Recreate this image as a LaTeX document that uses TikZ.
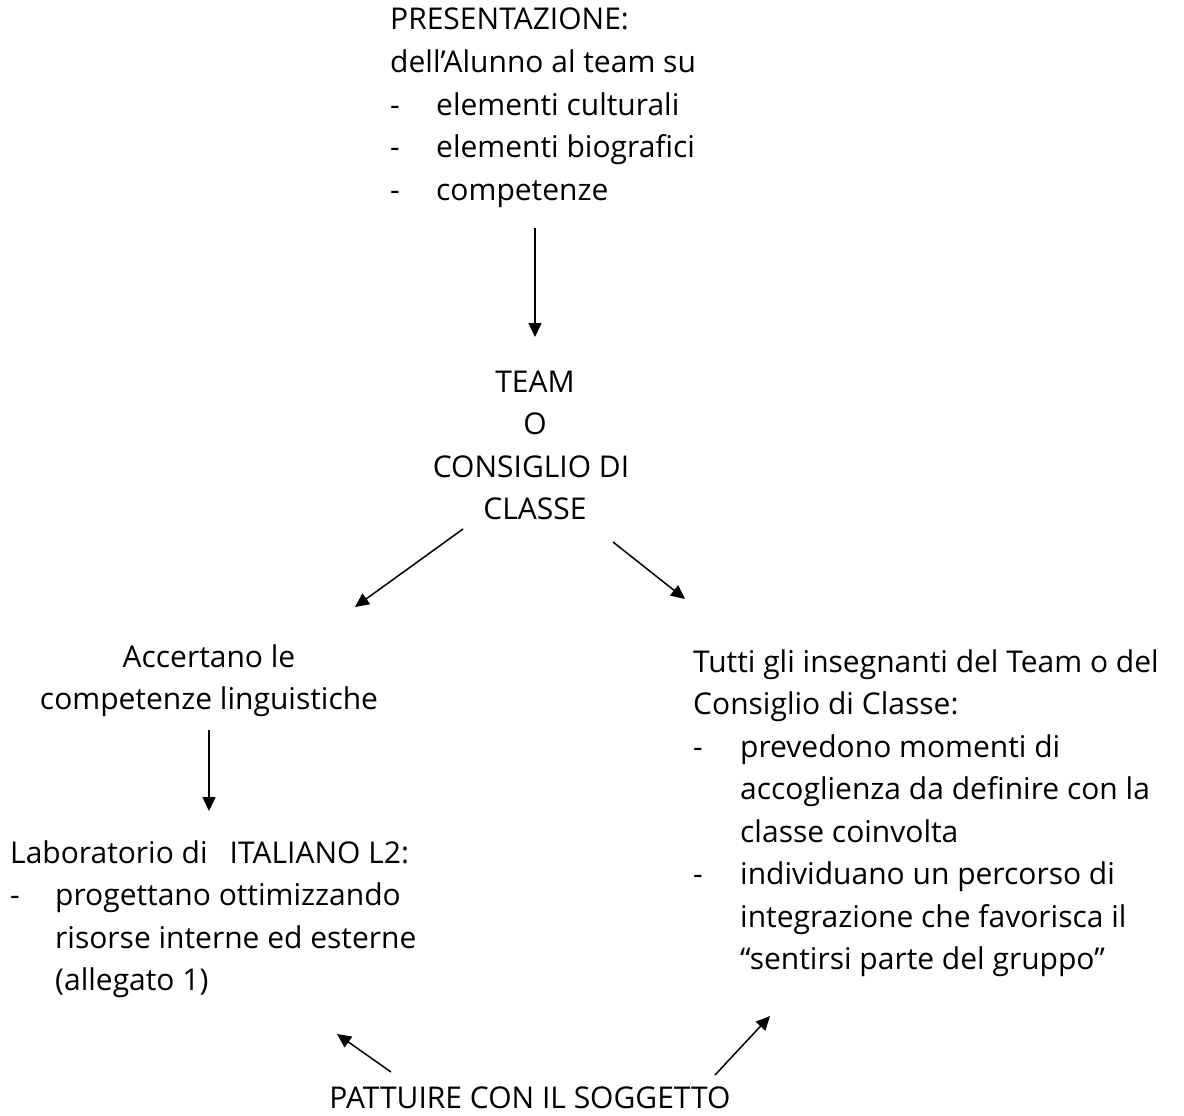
\documentclass[tikz,border=0pt]{standalone}
\usepackage{fontspec}
\setmainfont{Open Sans}
\usetikzlibrary{arrows.meta}
\begin{document}
\begin{tikzpicture}[x=1pt,y=-1pt,
  txt/.style={anchor=base west,inner sep=0pt,font=\fontsize{30}{40}\selectfont},
  ctxt/.style={anchor=base,inner sep=0pt,font=\fontsize{30}{40}\selectfont},
  conn/.style={line width=1.5pt,-{Triangle[length=14pt,width=13pt]}}]
\useasboundingbox (0,0) rectangle (1184,1116);
% top block
\node[txt] (p1) at (390,30) {PRESENTAZIONE:};
\node[txt] (p2) at (390,72.5) {dell’Alunno al team su};
\node[txt] (p3d) at (390,115) {-};
\node[txt] (p3) at (436,115) {elementi culturali};
\node[txt] (p4d) at (390,157.5) {-};
\node[txt] (p4) at (436,157.5) {elementi biografici};
\node[txt] (p5d) at (390,200) {-};
\node[txt] (p5) at (436,200) {competenze};
% team
\node[ctxt] (t1) at (535,392) {TEAM};
\node[ctxt] (t2) at (535,434.5) {O};
\node[ctxt] (t3) at (531,477) {CONSIGLIO DI};
\node[ctxt] (t4) at (535,519.5) {CLASSE};
% left
\node[ctxt] (a1) at (209,667) {Accertano le};
\node[ctxt] (a2) at (209,709.5) {competenze linguistiche};
\node[txt] (b1) at (10,863) {Laboratorio di\hspace{22pt}ITALIANO L2:};
\node[txt] (b2d) at (10,905.5) {-};
\node[txt] (b2) at (55,905.5) {progettano ottimizzando};
\node[txt] (b3) at (55,948) {risorse interne ed esterne};
\node[txt] (b4) at (55,990.5) {(allegato 1)};
% right
\node[txt] (r1) at (693,672) {Tutti gli insegnanti del Team o del};
\node[txt] (r2) at (693,714.5) {Consiglio di Classe:};
\node[txt] (r3d) at (693,757) {-};
\node[txt] (r3) at (740,757) {prevedono momenti di};
\node[txt] (r4) at (740,799.5) {accoglienza da definire con la};
\node[txt] (r5) at (740,842) {classe coinvolta};
\node[txt] (r6d) at (693,884.5) {-};
\node[txt] (r6) at (740,884.5) {individuano un percorso di};
\node[txt] (r7) at (740,927) {integrazione che favorisca il};
\node[txt] (r8) at (740,969.5) {“sentirsi parte del gruppo”};
% bottom
\node[ctxt] (s1) at (530,1108) {PATTUIRE CON IL SOGGETTO};
% connector ends
\coordinate (c1a) at (535,228); \coordinate (c1b) at (535,337);
\coordinate (c2a) at (463,529); \coordinate (c2b) at (355,607);
\coordinate (c3a) at (613,542); \coordinate (c3b) at (685,599);
\coordinate (c4a) at (209,730); \coordinate (c4b) at (209,811);
\coordinate (c5a) at (391,1072); \coordinate (c5b) at (337,1034);
\coordinate (c6a) at (715,1075); \coordinate (c6b) at (770,1016);
\draw[conn] (c1a) -- (c1b);
\draw[conn] (c2a) -- (c2b);
\draw[conn] (c3a) -- (c3b);
\draw[conn] (c4a) -- (c4b);
\draw[conn] (c5a) -- (c5b);
\draw[conn] (c6a) -- (c6b);
\end{tikzpicture}
\end{document}
